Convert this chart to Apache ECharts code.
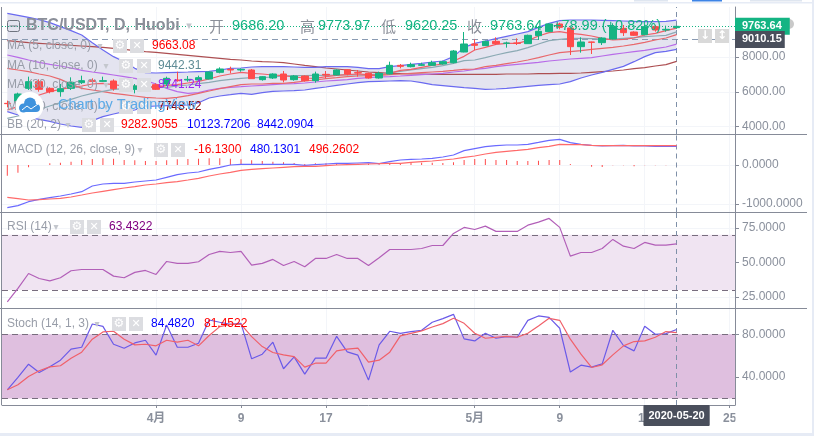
<!DOCTYPE html>
<html>
<head>
    <meta charset="utf-8" />
    <title>BTC/USDT</title>
    <style>
        html, body { margin: 0; padding: 0; background: #fff; }
        #container { width: 814px; height: 436px; }
    </style>
    <script src="https://cdn.jsdelivr.net/npm/echarts@6/dist/echarts.min.js"></script>
</head>
<body>
    <div id="container"></div>
    <script>
        var categories = [
            '2020-03-18','2020-03-19','2020-03-20','2020-03-21','2020-03-22','2020-03-23','2020-03-24','2020-03-25','2020-03-26','2020-03-27','2020-03-28','2020-03-29','2020-03-30','2020-03-31',
            '2020-04-01','2020-04-02','2020-04-03','2020-04-04','2020-04-05','2020-04-06','2020-04-07','2020-04-08','2020-04-09','2020-04-10','2020-04-11','2020-04-12','2020-04-13','2020-04-14','2020-04-15','2020-04-16','2020-04-17','2020-04-18','2020-04-19','2020-04-20','2020-04-21','2020-04-22','2020-04-23','2020-04-24','2020-04-25','2020-04-26','2020-04-27','2020-04-28','2020-04-29','2020-04-30',
            '2020-05-01','2020-05-02','2020-05-03','2020-05-04','2020-05-05','2020-05-06','2020-05-07','2020-05-08','2020-05-09','2020-05-10','2020-05-11','2020-05-12','2020-05-13','2020-05-14','2020-05-15','2020-05-16','2020-05-17','2020-05-18','2020-05-19','2020-05-20','2020-05-21','2020-05-22','2020-05-23','2020-05-24','2020-05-25'
        ];
        var dateLabels = { '2020-04-01': '4月', '2020-04-09': '9', '2020-04-17': '17', '2020-05-01': '5月', '2020-05-09': '9', '2020-05-17': '17', '2020-05-25': '25' };

        // open, close, low, high
        var candles = [
            [5337,5318,5107,5490],[5375,5874,5241,5950],[6199,6583,6104,6870],[6583,6142,6008,6717],[6199,6008,5912,6257],
            [6008,6180,5720,6449],[6199,6544,6104,6832],[6525,6640,6449,6928],[6640,6602,6449,6774],[6602,6640,6583,6870],
            [6621,6180,6065,6717],[6219,6161,6065,6295],[6142,6334,5912,6449],[6257,6449,6199,6640],[6410,6142,6104,6487],
            [6449,6774,6334,6870],[6678,6640,6583,7158],[6678,6717,6583,6908],[6678,6812,6640,6928],[6736,7138,6717,7158],
            [7119,7311,7062,7406],[7292,7253,7062,7445],[7253,7292,7158,7349],[7253,6755,6755,7311],[6698,6870,6640,6908],
            [6793,7023,6736,7062],[7023,6678,6544,7196],[6698,6908,6640,6966],[6908,6640,6583,6947],[6640,7023,6525,7158],
            [7004,6966,6774,7196],[6966,7253,6947,7292],[7272,7023,6947,7292],[7100,7081,6870,7253],[7062,6793,6755,7100],
            [6793,7062,6755,7158],[7023,7521,7004,7732],[7521,7464,7349,7598],[7445,7560,7406,7675],[7521,7560,7483,7675],
            [7521,7675,7483,7790],[7598,7732,7560,7790],[7675,8345,7636,8403],[8288,8748,8269,9437],[8748,8671,8403,9016],
            [8652,8901,8633,8939],[8901,8767,8690,9131],[8786,8805,8537,8882],[8805,8786,8690,9073],[8767,9246,8748,9284],
            [9227,9476,8978,9782],[9457,9897,9437,9936],[9897,9706,9591,9974],[9667,8594,8115,9667],[8594,8863,8250,9131],
            [8863,8843,8173,8882],[8824,9093,8690,9131],[9035,9744,9016,9936],[9648,9399,9208,9840],[9437,9246,9208,9476],
            [9284,9744,9246,9840],[9744,9552,9457,9840],[9552,9591,9457,9801],[9686.20,9763.64,9620.25,9773.97]
        ];
        var ma5 = [4954,5146,5529,5816,6008,6142,6257,6334,6449,6487,6410,6334,6334,6334,6257,6372,6410,6506,6602,6736,6908,7023,7119,7062,7023,6966,6928,6851,6793,6774,6870,6947,6985,7023,6985,6966,7062,7234,7292,7406,7521,7598,7771,8039,8403,8556,8728,8786,8786,8939,9208,9399,9457,9361,9303,9208,9073,8978,9016,9093,9265,9361,9514,9663.08];
        var ma10 = [4475,4609,4762,4992,5184,5375,5567,5759,5912,6027,6142,6180,6199,6257,6257,6257,6334,6391,6468,6544,6640,6717,6774,6812,6812,6851,6908,6928,6928,6947,6947,6966,6985,6966,6985,7023,7100,7177,7253,7330,7406,7502,7636,7790,7828,7962,8115,8250,8364,8537,8748,8939,9016,9073,9073,9054,9035,9035,9073,9112,9169,9208,9246,9442.31];
        var ma30 = [8115,7981,7828,7694,7579,7483,7368,7234,7138,7062,6966,6870,6774,6640,6449,6199,6008,5912,5950,6104,6199,6257,6295,6334,6372,6410,6449,6468,6506,6563,6621,6659,6698,6774,6812,6851,6870,6908,6947,6985,7023,7062,7138,7196,7292,7349,7445,7521,7579,7636,7694,7771,7828,7886,7924,7962,8058,8154,8230,8307,8384,8480,8575,8741.24];
        var ma60 = [8939,8882,8824,8786,8748,8709,8671,8633,8594,8556,8499,8441,8364,8307,8269,8211,8154,8096,8039,7981,7924,7866,7828,7771,7732,7713,7675,7598,7521,7445,7368,7311,7253,7196,7138,7100,7062,7042,7023,7023,7004,7004,7004,7004,7004,7004,7004,7023,7023,7023,7042,7042,7062,7062,7081,7119,7158,7196,7253,7330,7387,7483,7560,7748.52];
        var bbBasis = [7349,7253,7158,7023,6908,6717,6449,6199,6104,6008,5912,5835,5759,5682,5644,5625,5682,5778,5912,6046,6180,6295,6410,6449,6449,6487,6487,6544,6621,6678,6755,6812,6870,6908,6928,6947,6985,7023,7062,7100,7138,7177,7234,7292,7311,7445,7521,7617,7713,7828,7962,8115,8250,8307,8364,8441,8499,8556,8633,8728,8843,8978,9093,9282.91];
        var bbUpper = [10510,10395,10280,10146,9974,9744,9514,9265,8824,8403,8020,7732,7349,7100,7081,7100,7119,7138,7158,7177,7253,7349,7368,7426,7445,7445,7445,7426,7406,7406,7445,7445,7445,7406,7330,7330,7445,7502,7579,7636,7713,7771,8020,8556,8786,8920,9054,9188,9322,9457,9706,9936,10089,10127,10127,10127,10108,10089,10070,10051,10031,10031,10051,10123.72];
        var bbLower = [4858,4667,4532,4417,4303,4149,4034,3958,4341,4571,4724,4858,4954,5146,5184,5203,5222,5241,5375,5644,5759,5835,5912,5854,5950,6027,6046,6065,6104,6199,6276,6372,6449,6525,6583,6602,6621,6640,6621,6525,6410,6353,6295,6238,6199,6142,6161,6199,6257,6314,6372,6410,6449,6583,6793,6966,7119,7292,7464,7732,8020,8250,8326,8442.09];

        var macdLine = [-1094,-1043,-941,-881,-838,-795,-744,-684,-539,-487,-470,-470,-436,-410,-385,-316,-248,-205,-180,-111,-60,0,17,17,17,17,17,17,-9,9,26,43,43,51,60,34,86,128,145,154,171,205,257,368,419,470,496,513,513,530,581,633,658,573,530,504,487,496,504,487,487,479,479,480.13];
        var macdSignal = [-829,-864,-898,-889,-872,-855,-821,-770,-718,-675,-633,-590,-556,-513,-487,-453,-427,-385,-342,-282,-231,-188,-137,-111,-94,-77,-60,-43,-34,-34,-17,0,9,17,26,34,43,43,68,86,103,128,154,197,231,282,325,351,376,402,445,479,530,521,521,504,496,496,496,496,496,496,496,496.26];
        var macdHist = [-273,-197,-60,0,43,60,85,128,154,171,162,128,120,103,103,120,145,154,162,171,171,162,145,120,103,85,68,51,26,43,43,43,43,34,34,17,43,43,68,60,60,51,68,128,154,154,128,128,103,103,111,128,128,26,0,-43,-51,-5,-5,-34,-5,-5,-5,-16.13];
        var rsiValues = [21.5,31.2,42.0,38.4,36.7,38.9,44.0,44.9,44.9,44.9,40.1,38.9,42.8,44.2,41.3,50.7,49.3,49.3,50.5,55.8,58.0,57.2,58.0,48.1,49.3,52.2,47.8,50.7,46.9,52.9,52.9,55.8,52.9,52.9,47.8,53.4,59.4,59.4,59.4,60.1,62.3,62.3,71.0,75.4,73.9,76.3,72.5,72.5,72.5,77.0,79.2,81.9,75.4,54.6,57.2,57.2,60.1,66.7,61.8,60.1,64.5,62.6,62.6,63.43];
        var stochK = [28.2,39.7,52.1,44.4,49.6,55.8,66.1,67.9,89.6,87.4,70.7,67.0,71.9,74.4,60.5,88.7,67.9,67.9,71.6,93.3,91.2,89.3,90.2,57.1,61.4,72.6,47.8,58.9,42.8,57.7,57.7,78.1,63.6,60.5,37.2,70.1,82.8,80.9,82.5,83.7,91.2,94.6,98.6,75.7,73.8,80.9,76.3,77.8,77.2,93.0,97.1,95.8,85.6,44.7,51.2,49.3,52.4,83.7,69.5,64.5,87.4,80.0,80.6,84.48];
        var stochD = [28.2,32.9,40.6,45.9,49.6,50.6,57.7,63.3,75.4,82.2,82.8,75.4,70.1,70.7,69.2,74.4,72.6,74.4,69.2,78.8,87.1,89.3,89.3,77.8,68.5,63.0,60.8,59.2,49.3,53.0,53.0,64.5,66.1,67.0,54.0,55.8,63.3,78.5,80.9,83.1,86.8,89.9,94.9,90.2,80.9,76.3,77.2,78.1,77.2,80.9,87.8,94.9,93.0,75.4,61.4,49.0,51.5,60.8,69.2,73.2,73.8,77.2,82.5,81.45];

        var lastDate = '2020-05-20';
        var lastPrice = 9763.64;
        var otherPrice = 9010.15;

        var textGray = '#8a909c';
        var lineGray = '#868b98';
        var faint = '#f3f5f9';
        var upColor = '#14b483';
        var downColor = '#ff4a4a';
        var fontName = 'Arial, "Liberation Sans", "Noto Sans CJK SC"';

        var myChart = echarts.init(document.getElementById('container'));

        function makeXAxis(index, showLabel) {
            function isTick(i, value) {
                return dateLabels[value] !== undefined;
            }
            return {
                type: 'category',
                gridIndex: index,
                data: categories,
                axisLine: { show: showLabel, onZero: false, lineStyle: { color: lineGray } },
                axisTick: { show: showLabel, interval: isTick, alignWithLabel: true, length: 3, lineStyle: { color: lineGray } },
                axisLabel: {
                    show: showLabel, interval: isTick, margin: 8, color: textGray, fontFamily: fontName, fontSize: 12, fontWeight: 'bold',
                    formatter: function (value) { return dateLabels[value]; }
                },
                splitLine: { show: true, interval: isTick, alignWithLabel: true, lineStyle: { color: faint } }
            };
        }

        function makeYAxis(index, min, max, ticks, digits) {
            return {
                type: 'value',
                gridIndex: index,
                position: 'right',
                min: min,
                max: max,
                axisLine: { show: true, lineStyle: { color: lineGray } },
                axisTick: { show: true, length: 4, customValues: ticks, lineStyle: { color: lineGray } },
                axisLabel: {
                    margin: 7, color: textGray, fontFamily: fontName, fontSize: 12, customValues: ticks,
                    formatter: function (value) { return value.toFixed(digits); }
                },
                splitLine: { show: true, lineStyle: { color: faint } }
            };
        }

        function makeLine(name, data, color, gridIndex, marks) {
            var series = {
                name: name,
                type: 'line',
                xAxisIndex: gridIndex,
                yAxisIndex: gridIndex,
                data: data,
                symbol: 'none',
                z: 5,
                lineStyle: { color: color, width: 1.2 }
            };
            if (marks) { series.markLine = marks; }
            return series;
        }

        function crossLine(extra) {
            var item = { xAxis: lastDate, lineStyle: { color: '#7f90a8', type: [5, 4], width: 1 }, label: { show: false } };
            if (extra) { item.label = extra; }
            return item;
        }

        function bandLines(top, bottom) {
            var style = { color: '#786d7e', type: [6, 4], width: 1 };
            return {
                silent: true, symbol: 'none', animation: false, label: { show: false },
                data: [
                    { yAxis: top, lineStyle: style },
                    { yAxis: bottom, lineStyle: style },
                    crossLine()
                ]
            };
        }

        function priceTag(value, lineStyle, bg, padding) {
            return {
                yAxis: value,
                lineStyle: lineStyle,
                label: {
                    show: true, position: 'end', distance: 0, formatter: value.toFixed(2), color: '#fff',
                    fontFamily: fontName, fontSize: 11, fontWeight: 'bold', backgroundColor: bg, padding: padding, lineHeight: 13
                }
            };
        }

        // graphic helpers for the legend rows and the small buttons
        var overlay = [];
        function addText(x, y, str, color, font, align) {
            overlay.push({
                type: 'text', z: 100, silent: true,
                style: { x: x, y: y, text: str, fill: color, font: font, verticalAlign: 'middle', align: align || 'left' }
            });
        }
        function addRect(x, y, w, h, color, z) {
            overlay.push({ type: 'rect', z: z || 100, silent: true, shape: { x: x, y: y, width: w, height: h }, style: { fill: color } });
        }
        function addButtons(x, y, gap) {
            addRect(x, y - 7, 14, 14, '#dcdde1');
            addRect(x + gap, y - 7, 14, 14, '#dcdde1');
            addText(x + 7, y, '⚙', '#fff', '12px "DejaVu Sans"', 'center');
            addText(x + gap + 7, y, '✕', '#fff', 'bold 11px "DejaVu Sans"', 'center');
        }
        function addRow(y, label, caretX, btnX, gap, values) {
            addText(7, y, label, '#989da8', '12px ' + fontName);
            addText(caretX, y, '▾', '#c4c7cd', '10px "DejaVu Sans"', 'center');
            addButtons(btnX, y, gap);
            values.forEach(function (v) { addText(v[0], y, v[1], v[2], '12px ' + fontName); });
        }

        // page edges
        addRect(0, 2, 814, 1.5, '#e6ebf5', 1);
        addRect(812, 0, 2, 436, '#e6ebf5', 1);
        addRect(0, 433, 814, 3, '#e6ebf5', 1);
        addRect(634, 0, 34, 1.5, '#dfe6f0', 2);
        addRect(692, 0, 30, 1.5, '#3d84e6', 2);
        addRect(750, 0, 52, 1.5, '#dfe6f0', 2);
        // pane separators and left border
        addRect(0, 134, 807, 1, lineGray, 60);
        addRect(0, 212, 807, 1, lineGray, 60);
        addRect(0, 308, 807, 1, lineGray, 60);
        addRect(1, 7, 1, 398, lineGray, 60);
        addRect(735.5, 406, 12, 24, '#fff', 90);

        // title row
        overlay.push({ type: 'rect', z: 100, silent: true, shape: { x: 7.5, y: 20.5, width: 12, height: 11, r: 2 }, style: { fill: 'none', stroke: '#6f7480', lineWidth: 1 } });
        addRect(9.5, 25.5, 8, 1, '#6f7480');
        addText(26, 26, 'BTC/USDT, D, Huobi', '#8b8f99', 'bold 16px ' + fontName);
        addText(189, 26, '▾', '#c4c7cd', '11px "DejaVu Sans"', 'center');
        addText(209, 26, '开', '#8b8f99', '15px "Noto Sans CJK SC"');
        addText(232, 26, '9686.20', upColor, '14.5px ' + fontName);
        addText(300, 26, '高', '#8b8f99', '15px "Noto Sans CJK SC"');
        addText(318, 26, '9773.97', upColor, '14.5px ' + fontName);
        addText(381, 26, '低', '#8b8f99', '15px "Noto Sans CJK SC"');
        addText(405, 26, '9620.25', upColor, '14.5px ' + fontName);
        addText(467, 26, '收', '#8b8f99', '15px "Noto Sans CJK SC"');
        addText(490, 26, '9763.64', upColor, '14.5px ' + fontName);
        addText(553, 26, '+78.99 (+0.82%)', upColor, '14.5px ' + fontName);

        addRow(46, 'MA (5, close, 0)', 100, 113, 17, [[152, '9663.08', '#ff0000']]);
        addRow(66, 'MA (10, close, 0)', 106, 119, 18, [[158, '9442.31', '#5f8c96']]);
        addRow(85, 'MA (30, close, 0)', 106, 119, 18, [[158, '8741.24', '#9b27f5']]);
        addRow(107, 'MA (60, close, 0)', 106, 119, 18, [[158, '7748.52', '#8b0000']]);
        addRow(125, 'BB (20, 2)', 68, 82, 18, [[121, '9282.9055', '#ff0000'], [187, '10123.7206', '#0000ff'], [257, '8442.0904', '#0000ff']]);
        addRow(150, 'MACD (12, 26, close, 9)', 140, 154, 17, [[194, '-16.1300', '#ff0000'], [250, '480.1301', '#0000ff'], [309, '496.2602', '#ff0000']]);
        addRow(227, 'RSI (14)', 56, 70, 17, [[109, '63.4322', '#800080']]);
        addRow(324, 'Stoch (14, 1, 3)', 97, 112, 17, [[151, '84.4820', '#0000ff'], [204, '81.4522', '#ff0000']]);

        // watermark
        overlay.push({ type: 'circle', z: 110, silent: true, shape: { cx: 29.5, cy: 106, r: 14 }, style: { fill: '#fff' } });
        [[23.5, 108, 4.5], [30, 103.5, 6], [36, 108, 4]].forEach(function (c) {
            overlay.push({ type: 'circle', z: 111, silent: true, shape: { cx: c[0], cy: c[1], r: c[2] }, style: { fill: '#3f93dd' } });
        });
        addRect(23, 107, 13, 5, '#3f93dd');
        overlay[overlay.length - 1].z = 111;
        overlay.push({ type: 'polyline', z: 112, silent: true, shape: { points: [[22, 110], [27, 106], [31, 109], [38, 104]] }, style: { fill: 'none', stroke: '#fff', lineWidth: 1 } });
        addText(58, 105, 'Chart by TradingView', '#5aa9e6', '14.5px ' + fontName);
        overlay[overlay.length - 1].z = 112;

        // scale buttons
        addRect(698, 29, 14, 14, '#d9d9d9');
        addRect(715, 29, 14, 14, '#d9d9d9');
        addText(705, 36, '↓', '#fff', 'bold 12px "DejaVu Sans"', 'center');
        addText(722, 36, '↕', '#fff', 'bold 12px "DejaVu Sans"', 'center');
        overlay.push({ type: 'circle', z: 1, silent: true, shape: { cx: 789, cy: 24, r: 5 }, style: { fill: '#c9c9c9' } });

        var option = {
            animation: false,
            backgroundColor: '#fff',
            grid: [
                { left: 2, right: 79, top: 7, height: 127 },
                { left: 2, right: 79, top: 134, height: 78.5 },
                { left: 2, right: 79, top: 212.5, height: 95.5 },
                { left: 2, right: 79, top: 308, height: 97 }
            ],
            xAxis: [makeXAxis(0, false), makeXAxis(1, false), makeXAxis(2, false), makeXAxis(3, true)],
            yAxis: [
                makeYAxis(0, 3575, 10874, [4000, 6000, 8000], 2),
                makeYAxis(1, -1218, 795, [-1000, 0], 4),
                makeYAxis(2, 17, 86.2, [25, 50, 75], 4),
                makeYAxis(3, 14, 104.5, [40, 80], 4)
            ],
            graphic: { elements: overlay },
            series: [
                {
                    name: 'BB fill',
                    type: 'custom',
                    xAxisIndex: 0,
                    yAxisIndex: 0,
                    z: 1,
                    silent: true,
                    data: bbUpper.map(function (v, i) { return [i, v, bbLower[i]]; }),
                    renderItem: function (params, api) {
                        if (params.dataIndex !== 0) { return null; }
                        var points = [];
                        bbUpper.forEach(function (v, i) { points.push(api.coord([i, v])); });
                        for (var i = bbLower.length - 1; i >= 0; i--) { points.push(api.coord([i, bbLower[i]])); }
                        return { type: 'polygon', shape: { points: points }, style: { fill: '#e4e4f0' } };
                    }
                },
                makeLine('MA60', ma60, '#ad4f52', 0),
                makeLine('MA30', ma30, '#b86be8', 0),
                makeLine('BB basis', bbBasis, '#e8686c', 0),
                makeLine('BB upper', bbUpper, '#6a6af0', 0),
                makeLine('BB lower', bbLower, '#6a6af0', 0),
                makeLine('MA10', ma10, '#8caab4', 0),
                makeLine('MA5', ma5, '#f0606a', 0),
                {
                    name: 'BTC/USDT',
                    type: 'candlestick',
                    xAxisIndex: 0,
                    yAxisIndex: 0,
                    z: 6,
                    barWidth: 7,
                    data: candles,
                    itemStyle: { color: upColor, color0: downColor, borderColor: upColor, borderColor0: downColor, borderWidth: 1 },
                    markLine: {
                        silent: true, symbol: 'none', animation: false, label: { show: false },
                        data: [
                            priceTag(lastPrice, { color: upColor, type: [1, 2], width: 1 }, upColor, [2, 8, 2, 7]),
                            priceTag(otherPrice, { color: '#8a9bb3', type: [6, 4], width: 1 }, '#4a4f5c', [2, 3, 2, 7]),
                            crossLine()
                        ]
                    }
                },
                {
                    name: 'Histogram',
                    type: 'bar',
                    xAxisIndex: 1,
                    yAxisIndex: 1,
                    barWidth: 1,
                    data: macdHist,
                    itemStyle: { color: downColor }
                },
                makeLine('MACD', macdLine, '#6a6aff', 1, {
                    silent: true, symbol: 'none', animation: false, label: { show: false }, data: [crossLine()]
                }),
                makeLine('Signal', macdSignal, '#ff6a6a', 1),
                {
                    name: 'RSI',
                    type: 'line',
                    xAxisIndex: 2,
                    yAxisIndex: 2,
                    data: rsiValues,
                    symbol: 'none',
                    z: 5,
                    lineStyle: { color: '#b25fb8', width: 1.2 },
                    markArea: { silent: true, animation: false, itemStyle: { color: '#f0e4f2' }, data: [[{ yAxis: 70 }, { yAxis: 30 }]] },
                    markLine: bandLines(70, 30)
                },
                {
                    name: 'Stoch K',
                    type: 'line',
                    xAxisIndex: 3,
                    yAxisIndex: 3,
                    data: stochK,
                    symbol: 'none',
                    z: 5,
                    lineStyle: { color: '#6a5ae8', width: 1.2 },
                    markArea: { silent: true, animation: false, itemStyle: { color: '#dfbfdf' }, data: [[{ yAxis: 80 }, { yAxis: 20 }]] },
                    markLine: (function () {
                        var marks = bandLines(80, 20);
                        marks.data[2] = crossLine({
                            show: true, position: 'start', distance: 0, formatter: lastDate, color: '#fff', fontFamily: fontName,
                            fontSize: 11, fontWeight: 'bold', backgroundColor: '#4a4f5c', padding: [5, 5, 5, 5], borderRadius: 1
                        });
                        return marks;
                    })()
                },
                makeLine('Stoch D', stochD, '#f0606a', 3)
            ]
        };
        myChart.setOption(option);
    </script>
</body>
</html>
